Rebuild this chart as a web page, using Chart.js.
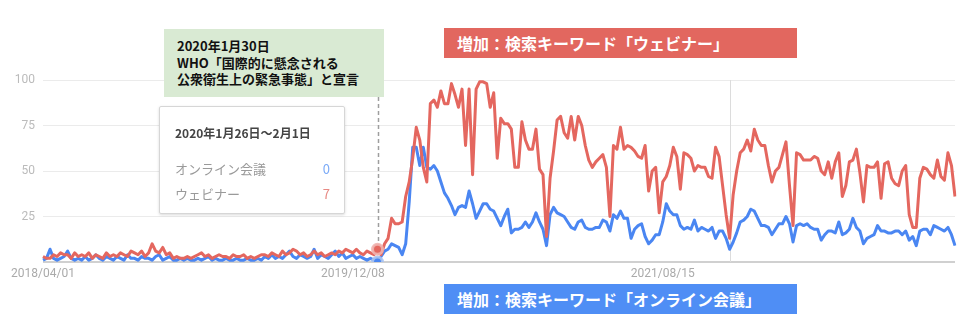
<!DOCTYPE html>
<html lang="ja">
<head>
<meta charset="utf-8">
<title>ウェビナー / オンライン会議 検索トレンド</title>
<script src="https://cdn.jsdelivr.net/npm/chart.js@4.4.1/dist/chart.umd.min.js"></script>
<style>
  html, body { margin: 0; padding: 0; background: #fff; }
  #wrap { position: relative; width: 975px; height: 327px; overflow: hidden; }
  #trendChart { position: absolute; left: 0; top: 0; }
  .jp { font-family: "Noto Sans CJK JP", "Noto Sans", sans-serif; }
  .note {
    position: absolute; left: 164px; top: 29px; width: 220px; height: 68px;
    background: #d9ead3; box-sizing: border-box; padding: 9px 0 0 13px;
    font-size: 13px; font-weight: bold; line-height: 16.5px; color: #111;
  }
  .tip {
    position: absolute; left: 159px; top: 106px; width: 186px; height: 108px;
    background: #fff; border: 1px solid #d6d6d6; border-radius: 2px; box-sizing: border-box;
    box-shadow: 0 1px 3px rgba(0,0,0,0.15);
  }
  .tip .title { position: absolute; left: 15px; top: 17px; font-size: 12px; font-weight: bold; color: #444; }
  .tip .row { position: absolute; left: 15px; right: 14px; font-size: 13px; color: #9a9a9a; }
  .tip .row span { position: absolute; right: 0; top: 0; }
  .tag {
    position: absolute; left: 444px; width: 353px; height: 30px; box-sizing: border-box;
    padding-left: 13px; color: #fff; font-size: 16px; font-weight: bold; line-height: 30px;
  }
</style>
</head>
<body>
<div id="wrap">
  <canvas id="trendChart" width="975" height="327"></canvas>

  <div class="note jp">2020年1月30日<br>WHO「国際的に懸念される<br>公衆衛生上の緊急事態」と宣言</div>

  <div class="tip jp">
    <div class="title">2020年1月26日～2月1日</div>
    <div class="row" style="top:52px">オンライン会議<span style="color:#7baaf7">0</span></div>
    <div class="row" style="top:77px">ウェビナー<span style="color:#e88a84">7</span></div>
  </div>

  <div class="tag jp" style="top:28px;background:#e2675f">増加：検索キーワード「ウェビナー」</div>
  <div class="tag jp" style="top:284px;background:#4f8ef5">増加：検索キーワード「オンライン会議」</div>
</div>

<script>
// 週次データ（2018/04/01 から 260 週）
const startDate = '2018-04-01';
const weekCount = 260;

const tickIndexes = [0, 88, 176];
const tickLabels = ['2018/04/01', '2019/12/08', '2021/08/15'];
const yTicks = [0, 25, 50, 75, 100];

const whoIndex = 95;      // 2020/01/26 の週
const cursorIndex = 195;  // グレーの縦線

// ウェビナー
const webinar = [
  3, 2, 2, 4, 3, 5, 4, 4, 2, 5,
  3, 4, 3, 5, 2, 4, 3, 2, 5, 3,
  4, 3, 5, 4, 3, 6, 5, 4, 6, 3,
  5, 10, 6, 5, 8, 4, 5, 2, 3, 2,
  2, 3, 2, 3, 4, 5, 3, 4, 2, 3,
  4, 3, 3, 2, 4, 3, 3, 4, 2, 3,
  2, 3, 4, 4, 3, 5, 4, 3, 6, 4,
  5, 7, 6, 4, 5, 3, 4, 6, 4, 5,
  3, 4, 5, 4, 6, 5, 7, 6, 5, 7,
  5, 4, 6, 5, 4, 7, 4, 10, 13, 24,
  21, 21, 22, 36, 44, 57, 74, 67, 52, 44,
  87, 89, 85, 94, 87, 87, 98, 92, 85, 95,
  64, 95, 48, 95, 99, 99, 98, 85, 93, 57,
  79, 76, 76, 73, 52, 52, 77, 67, 62, 62,
  73, 51, 48, 14, 46, 61, 78, 80, 71, 68,
  80, 67, 80, 75, 64, 56, 52, 55, 57, 59,
  52, 25, 64, 62, 74, 62, 64, 63, 61, 58,
  57, 64, 39, 50, 52, 27, 44, 47, 53, 63,
  58, 40, 60, 59, 57, 50, 53, 52, 52, 47,
  46, 63, 58, 42, 26, 13, 37, 50, 60, 62,
  67, 61, 73, 67, 64, 64, 53, 44, 50, 52,
  59, 66, 42, 20, 60, 59, 56, 56, 56, 58,
  57, 50, 48, 55, 46, 55, 60, 36, 42, 55,
  56, 62, 49, 33, 53, 52, 52, 55, 35, 54,
  55, 46, 43, 42, 50, 53, 26, 19, 19, 46,
  52, 51, 48, 46, 56, 47, 45, 60, 53, 36
];

// オンライン会議
const onlineMeeting = [
  1, 2, 7, 2, 1, 2, 3, 6, 2, 1,
  2, 1, 3, 1, 2, 4, 2, 1, 3, 2,
  1, 3, 2, 1, 4, 2, 2, 1, 3, 2,
  2, 1, 3, 4, 1, 2, 3, 1, 1, 2,
  1, 2, 1, 1, 2, 1, 2, 3, 1, 2,
  1, 1, 2, 1, 1, 2, 1, 1, 2, 1,
  1, 2, 1, 3, 2, 4, 2, 3, 2, 4,
  6, 3, 2, 4, 3, 2, 3, 7, 2, 4,
  3, 2, 4, 6, 3, 5, 2, 3, 4, 2,
  3, 2, 1, 2, 1, 0, 3, 6, 7, 10,
  9, 8, 4, 10, 33, 63, 63, 53, 63, 52,
  51, 53, 50, 44, 38, 35, 31, 26, 30, 31,
  30, 39, 32, 24, 28, 32, 32, 29, 28, 24,
  20, 25, 29, 16, 18, 18, 19, 22, 19, 22,
  27, 22, 18, 9, 26, 30, 27, 26, 25, 22,
  19, 18, 22, 23, 19, 18, 18, 19, 19, 23,
  22, 17, 26, 24, 28, 24, 24, 13, 18, 20,
  21, 14, 10, 12, 15, 15, 22, 32, 28, 26,
  26, 20, 18, 19, 18, 23, 17, 19, 18, 17,
  19, 13, 17, 17, 13, 7, 11, 16, 22, 23,
  25, 29, 28, 24, 20, 20, 19, 15, 18, 21,
  21, 25, 21, 11, 20, 21, 20, 21, 19, 18,
  18, 12, 15, 17, 17, 16, 22, 15, 16, 18,
  24, 19, 17, 10, 13, 14, 15, 20, 17, 17,
  16, 16, 17, 17, 15, 17, 12, 14, 9, 17,
  18, 18, 15, 20, 19, 18, 17, 19, 15, 9
];

// 週の開始日ラベル
function buildWeekLabels(start, count) {
  const labels = [];
  const d = new Date(start + 'T00:00:00Z');
  for (let i = 0; i < count; i++) {
    const t = new Date(d.getTime() + i * 7 * 86400000);
    const m = String(t.getUTCMonth() + 1).padStart(2, '0');
    const day = String(t.getUTCDate()).padStart(2, '0');
    labels.push(`${t.getUTCFullYear()}/${m}/${day}`);
  }
  return labels;
}

// 縦線（宣言日の破線とカーソル位置）
const markerLines = {
  id: 'markerLines',
  beforeDatasetsDraw(chart) {
    const { ctx, chartArea, scales } = chart;
    const yBottom = scales.y.getPixelForValue(0);

    const xc = Math.round(scales.x.getPixelForValue(cursorIndex)) + 0.5;
    ctx.save();
    ctx.strokeStyle = '#dcdcdc';
    ctx.lineWidth = 1;
    ctx.beginPath();
    ctx.moveTo(xc, chartArea.top);
    ctx.lineTo(xc, yBottom);
    ctx.stroke();

    const xw = Math.round(scales.x.getPixelForValue(whoIndex)) + 0.5;
    ctx.strokeStyle = '#9e9e9e';
    ctx.lineWidth = 1.5;
    ctx.setLineDash([4, 3]);
    ctx.beginPath();
    ctx.moveTo(xw, 97);
    ctx.lineTo(xw, yBottom);
    ctx.stroke();
    ctx.restore();
  }
};

const hoverRadius = ctx => (ctx.dataIndex === whoIndex ? 5 : 0);

new Chart(document.getElementById('trendChart'), {
  type: 'line',
  data: {
    labels: buildWeekLabels(startDate, weekCount),
    datasets: [
      {
        label: 'ウェビナー',
        data: webinar,
        borderColor: '#e4675f',
        borderWidth: 3,
        borderJoinStyle: 'round',
        pointRadius: hoverRadius,
        pointBackgroundColor: '#e4675f',
        pointBorderColor: 'rgba(240,180,176,0.9)',
        pointBorderWidth: 3,
        tension: 0,
        fill: false
      },
      {
        label: 'オンライン会議',
        data: onlineMeeting,
        borderColor: '#4a86f2',
        borderWidth: 3,
        borderJoinStyle: 'round',
        pointRadius: hoverRadius,
        pointBackgroundColor: '#4a86f2',
        pointBorderColor: 'rgba(170,195,240,0.9)',
        pointBorderWidth: 3,
        tension: 0,
        fill: false
      }
    ]
  },
  options: {
    responsive: false,
    animation: false,
    events: [],
    layout: { padding: { top: 80, right: 20, left: 0, bottom: 0 } },
    plugins: {
      legend: { display: false },
      tooltip: { enabled: false }
    },
    scales: {
      x: {
        type: 'category',
        offset: false,
        afterFit(scale) { scale.height = 65; },
        grid: { display: false, drawTicks: false },
        border: { display: false },
        ticks: {
          autoSkip: false,
          maxRotation: 0,
          padding: 5,
          color: '#aaaaaa',
          font: { family: 'Roboto, Arial, sans-serif', size: 12 },
          callback(value, index) {
            const k = tickIndexes.indexOf(index);
            return k >= 0 ? tickLabels[k] : '';
          }
        }
      },
      y: {
        min: yTicks[0],
        max: yTicks[yTicks.length - 1],
        afterFit(scale) { scale.width = 43; },
        afterBuildTicks(scale) { scale.ticks = yTicks.map(v => ({ value: v })); },
        grid: {
          drawTicks: false,
          color: ctx => (ctx.tick && ctx.tick.value === 0 ? '#d0d0d0' : '#ebebeb'),
          lineWidth: ctx => (ctx.tick && ctx.tick.value === 0 ? 2 : 1)
        },
        border: { display: false },
        ticks: {
          padding: 8,
          color: '#bbbbbb',
          font: { family: 'Roboto, Arial, sans-serif', size: 12 },
          callback: v => (v === 0 ? '' : v)
        }
      }
    }
  },
  plugins: [markerLines]
});
</script>
</body>
</html>
